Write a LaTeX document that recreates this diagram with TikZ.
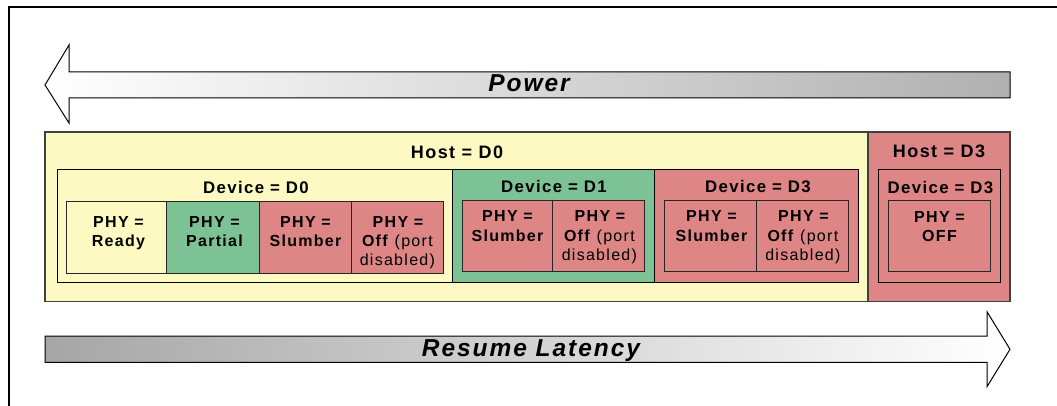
\documentclass[tikz,border=0pt]{standalone}
\usepackage{fontspec}
\setmainfont{Liberation Sans}[LetterSpace=8]
\definecolor{hostyellow}{HTML}{FCFAC2}
\definecolor{stgreen}{HTML}{7DC294}
\definecolor{stred}{HTML}{DE8585}
\tikzset{
  hostbox/.style={draw=black!75, line width=1.2pt},
  devbox/.style={draw=black, line width=1pt},
  phybox/.style={draw=black!85, line width=1pt},
  arrowshape/.style={draw=black, line width=1pt},
  hosttext/.style={font=\bfseries\fontsize{18}{21}\selectfont, inner sep=0pt, anchor=base},
  devtext/.style={font=\bfseries\fontsize{16.8}{20}\selectfont, inner sep=0pt, anchor=base},
  phytext/.style={font=\bfseries\fontsize{16}{19.3}\selectfont, align=center, anchor=north, inner sep=0pt},
  arrowtext/.style={font=\bfseries\itshape\fontsize{24.5}{28}\selectfont, inner sep=0pt, anchor=base},
}
\begin{document}
\begin{tikzpicture}[x=1pt,y=-1pt]
\useasboundingbox (0,0) rectangle (1057,406);
\fill[white] (0,0) rectangle (1057,406);
% outer frame (partially visible)
\draw[line width=2pt] (9,406) -- (9,7.5) -- (1057,7.5);

% Power arrow
\shade[left color=white, right color=black!31]
  (45,85) -- (69,45) -- (69,72) -- (1010,72) -- (1010,98) -- (69,98) -- (69,123) -- cycle;
\draw[arrowshape]
  (45,85) -- (69,45) -- (69,72) -- (1010,72) -- (1010,98) -- (69,98) -- (69,123) -- cycle;
\node[arrowtext] (power) at (529,91.7) {Power};

% Resume Latency arrow
\shade[left color=black!35, right color=white]
  (45,336) -- (987,336) -- (987,311.7) -- (1010,349.3) -- (987,386.7) -- (987,362.3) -- (45,362.3) -- cycle;
\draw[arrowshape]
  (45,336) -- (987,336) -- (987,311.7) -- (1010,349.3) -- (987,386.7) -- (987,362.3) -- (45,362.3) -- cycle;
\node[arrowtext] (latency) at (531,356.7) {Resume Latency};

% Host boxes
\path[hostbox, fill=hostyellow] (45,132) rectangle (868,301.5);
\path[hostbox, fill=stred] (868,132) rectangle (1010,301.5);
\node[hosttext] (hostD0) at (457,158.3) {Host = D0};
\node[hosttext] (hostD3) at (939,157.8) {Host = D3};

% Device boxes
\path[devbox, fill=hostyellow] (57.3,169.3) rectangle (452.7,282.3);
\path[devbox, fill=stgreen] (452.7,169.3) rectangle (654.3,282.3);
\path[devbox, fill=stred] (654.3,169.3) rectangle (858,282.3);
\path[devbox, fill=stred] (878.3,169.3) rectangle (1000.7,282.3);
\node[devtext] (devD0) at (256,193.3) {Device = D0};
\node[devtext] (devD1) at (554,192.5) {Device = D1};
\node[devtext] (devD3) at (758,192.5) {Device = D3};
\node[devtext] (devD3h) at (940.5,193.3) {Device = D3};

% PHY boxes, device D0
\path[phybox, fill=hostyellow] (66.7,202) rectangle (166.7,273.3);
\path[phybox, fill=stgreen] (166.7,202) rectangle (259.3,273.3);
\path[phybox, fill=stred] (259.3,202) rectangle (351,273.3);
\path[phybox, fill=stred] (351,202) rectangle (443.3,273.3);
\node[phytext] (p0a) at (118.5,216) {PHY =\\Ready};
\node[phytext] (p0b) at (214.5,216) {PHY =\\Partial};
\node[phytext] (p0c) at (305.5,216) {PHY =\\Slumber};
\node[phytext] (p0d) at (398,216) {PHY =\\Off \textmd{(port}\\\textmd{disabled)}};

% PHY boxes, device D1
\path[phybox, fill=stred] (462.3,200.7) rectangle (552.7,271);
\path[phybox, fill=stred] (552.7,200.7) rectangle (644.3,271);
\node[phytext] (p1a) at (507.5,210.7) {PHY =\\Slumber};
\node[phytext] (p1b) at (600,210.7) {PHY =\\Off \textmd{(port}\\\textmd{disabled)}};

% PHY boxes, device D3
\path[phybox, fill=stred] (664.3,200.7) rectangle (756,271);
\path[phybox, fill=stred] (756,200.7) rectangle (848.3,271);
\node[phytext] (p3a) at (711.5,210.7) {PHY =\\Slumber};
\node[phytext] (p3b) at (803.5,210.7) {PHY =\\Off \textmd{(port}\\\textmd{disabled)}};

% PHY box, host D3
\path[phybox, fill=stred] (888.3,200.3) rectangle (990.7,271);
\node[phytext] (ph3) at (939.5,211) {PHY =\\OFF};
\end{tikzpicture}
\end{document}
